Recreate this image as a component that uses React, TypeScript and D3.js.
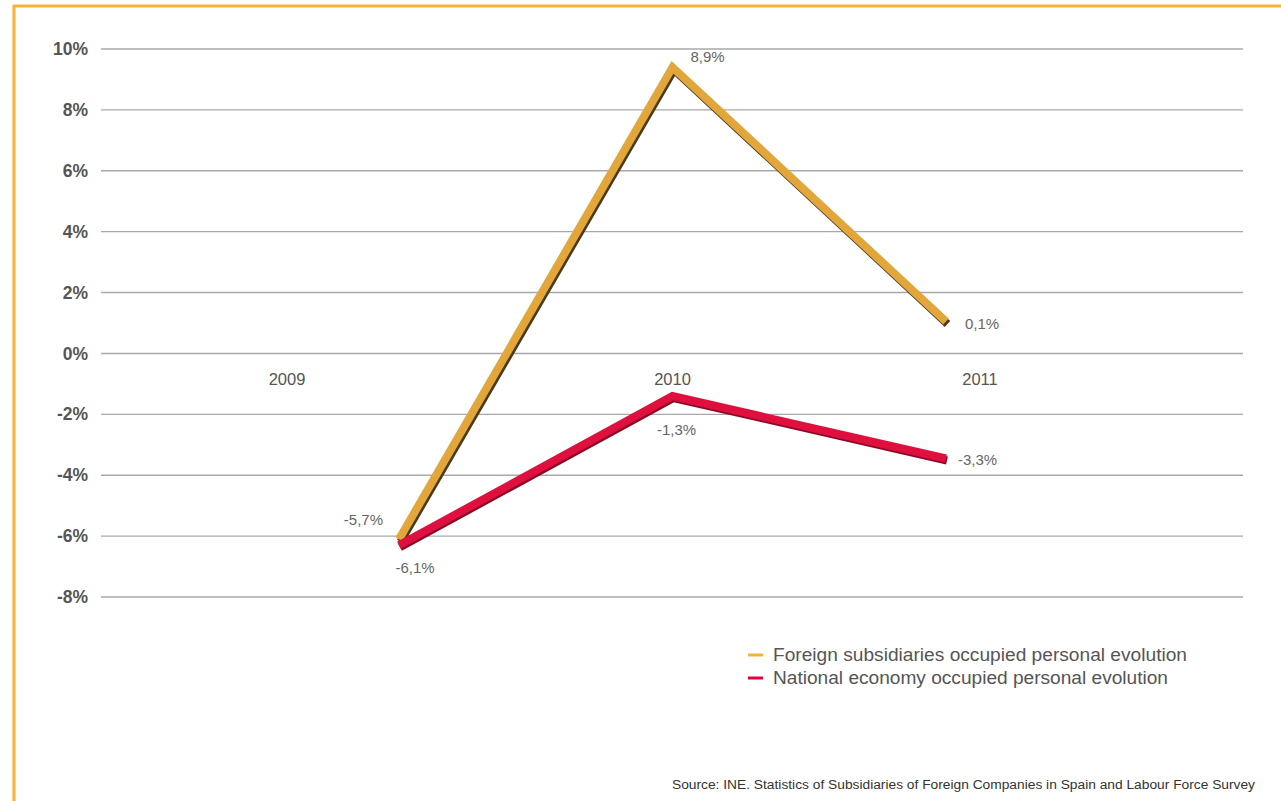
import React from "react";
import * as d3 from "d3";

const years = [2009, 2010, 2011];
const yTicks = [10, 8, 6, 4, 2, 0, -2, -4, -6, -8];
// plotted positions (as drawn in the source chart)
const foreignValues = [-6.1, 9.4, 1.05];
const nationalValues = [-6.3, -1.4, -3.45];
// printed data labels
const foreignLabels = ["-5,7%", "8,9%", "0,1%"];
const nationalLabels = ["-6,1%", "-1,3%", "-3,3%"];
const seriesNames = [
  "Foreign subsidiaries occupied personal evolution",
  "National economy occupied personal evolution",
];
const sourceText =
  "Source: INE. Statistics of Subsidiaries of Foreign Companies in Spain and Labour Force Survey";

const W = 1281;
const H = 801;
const FONT = "'Liberation Sans', Arial, Helvetica, sans-serif";

export default function App() {
  const y = d3.scaleLinear().domain([-8, 10]).range([597, 49]);
  const x = d3.scaleLinear().domain([2009, 2011]).range([399, 946]);
  const gridX0 = 101;
  const gridX1 = 1243;
  const line = d3
    .line<number>()
    .x((_, i) => x(years[i]))
    .y((d) => y(d));

  const catOffsets = [-112, 0, 34];
  const foreignLabelPos = [
    { dx: -16, dy: -14, anchor: "end" },
    { dx: 35, dy: -5, anchor: "middle" },
    { dx: 19, dy: 8, anchor: "start" },
  ];
  const nationalLabelPos = [
    { dx: 16, dy: 28, anchor: "middle" },
    { dx: 4, dy: 39, anchor: "middle" },
    { dx: 12, dy: 7, anchor: "start" },
  ];
  const legendWidths = [414, 395];

  const gold = "#E2A63A";
  const goldShadow = "#4a3a1e";
  const red = "#DF0F3E";
  const redShadow = "#8a0a28";

  return (
    <svg
      width={W}
      height={H}
      style={{ position: "absolute", left: 0, top: 0, background: "#fff" }}
      fontFamily={FONT}
    >
      <rect x={0} y={0} width={W} height={H} fill="#fff" />
      {/* orange frame */}
      <path d={`M14,${H} L14,6 L${W},6`} fill="none" stroke="#F9B233" strokeWidth={3} />

      {/* grid + y ticks */}
      {yTicks.map((t) => (
        <g key={t}>
          <line x1={gridX0} x2={gridX1} y1={y(t)} y2={y(t)} stroke="#a9a9a9" strokeWidth={1.4} />
          <text
            x={88}
            y={y(t)}
            dy="0.35em"
            textAnchor="end"
            fontSize={17.5}
            fontWeight="bold"
            fill="#555"
          >
            {t}%
          </text>
        </g>
      ))}

      {/* category labels */}
      {years.map((yr, i) => (
        <text
          key={yr}
          x={x(yr) + catOffsets[i]}
          y={y(0) + 32}
          textAnchor="middle"
          fontSize={16.5}
          fill="#555"
        >
          {yr}
        </text>
      ))}

      {/* foreign ribbon */}
      <g transform="translate(1.5,2.5)">
        <path d={line(foreignValues) || ""} fill="none" stroke={goldShadow} strokeWidth={8} strokeLinejoin="miter" />
      </g>
      <path d={line(foreignValues) || ""} fill="none" stroke={gold} strokeWidth={8} strokeLinejoin="miter" />

      {/* national ribbon */}
      <g transform="translate(1,2)">
        <path d={line(nationalValues) || ""} fill="none" stroke={redShadow} strokeWidth={8} strokeLinejoin="miter" />
      </g>
      <path d={line(nationalValues) || ""} fill="none" stroke={red} strokeWidth={8} strokeLinejoin="miter" />

      {/* data labels */}
      {foreignValues.map((v, i) => (
        <text
          key={"f" + i}
          x={x(years[i]) + foreignLabelPos[i].dx}
          y={y(v) + foreignLabelPos[i].dy}
          textAnchor={foreignLabelPos[i].anchor as any}
          fontSize={15}
          fill="#666"
        >
          {foreignLabels[i]}
        </text>
      ))}
      {nationalValues.map((v, i) => (
        <text
          key={"n" + i}
          x={x(years[i]) + nationalLabelPos[i].dx}
          y={y(v) + nationalLabelPos[i].dy}
          textAnchor={nationalLabelPos[i].anchor as any}
          fontSize={15}
          fill="#666"
        >
          {nationalLabels[i]}
        </text>
      ))}

      {/* legend */}
      {seriesNames.map((name, i) => (
        <g key={name} transform={`translate(748,${655 + i * 23})`}>
          <line x1={0} x2={15} y1={0} y2={0} stroke={i === 0 ? "#F5B335" : "#E4003A"} strokeWidth={3} />
          <text
            x={25}
            y={0}
            dy="0.35em"
            fontSize={17.5}
            fill="#555"
            textLength={legendWidths[i]}
            lengthAdjust="spacingAndGlyphs"
          >
            {name}
          </text>
        </g>
      ))}

      {/* source */}
      <text x={672} y={789} fontSize={12} fill="#333" textLength={583} lengthAdjust="spacingAndGlyphs">
        {sourceText}
      </text>
    </svg>
  );
}
